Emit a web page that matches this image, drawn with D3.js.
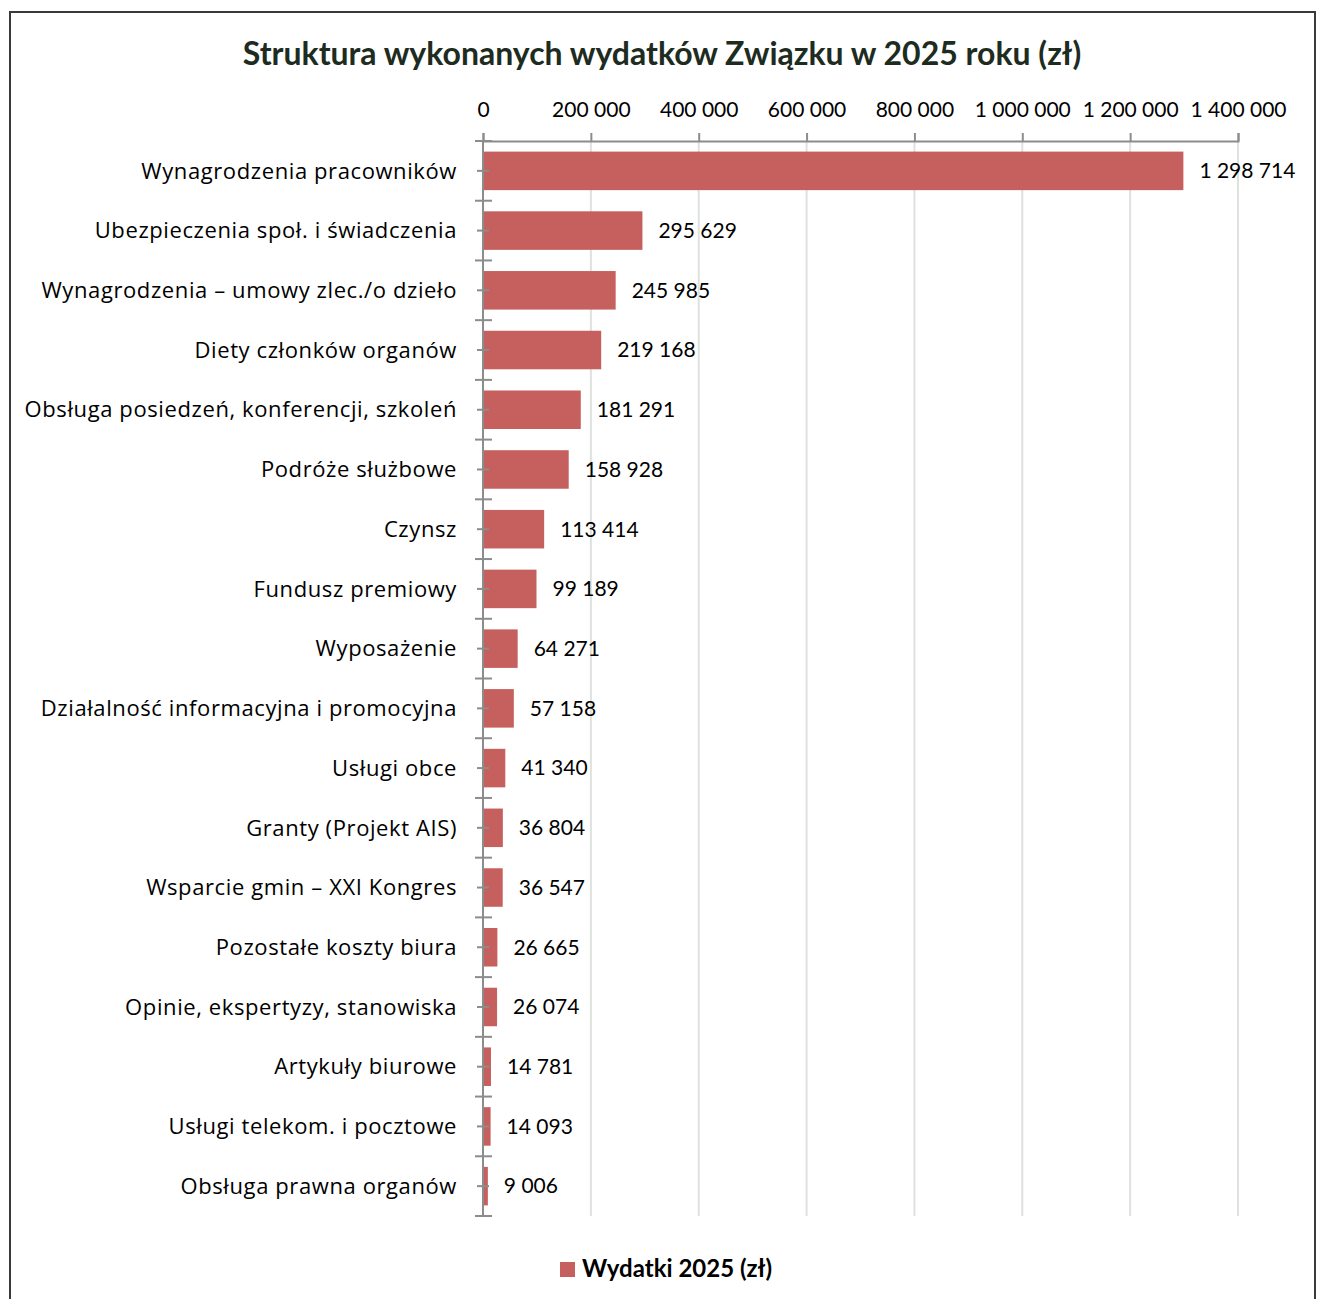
<!DOCTYPE html>
<html>
<head>
<meta charset="utf-8">
<script src="https://cdn.jsdelivr.net/npm/d3@7/dist/d3.min.js"></script>
<style>
  body { margin: 0; background: #fff; }
  text { font-family: Lato, "Noto Sans", sans-serif; }
</style>
</head>
<body>
<div id="graph"></div>
<script>
// dane
var categories = [
  "Wynagrodzenia pracowników",
  "Ubezpieczenia społ. i świadczenia",
  "Wynagrodzenia – umowy zlec./o dzieło",
  "Diety członków organów",
  "Obsługa posiedzeń, konferencji, szkoleń",
  "Podróże służbowe",
  "Czynsz",
  "Fundusz premiowy",
  "Wyposażenie",
  "Działalność informacyjna i promocyjna",
  "Usługi obce",
  "Granty (Projekt AIS)",
  "Wsparcie gmin – XXI Kongres",
  "Pozostałe koszty biura",
  "Opinie, ekspertyzy, stanowiska",
  "Artykuły biurowe",
  "Usługi telekom. i pocztowe",
  "Obsługa prawna organów"
];
var values = [1298714, 295629, 245985, 219168, 181291, 158928, 113414, 99189,
  64271, 57158, 41340, 36804, 36547, 26665, 26074, 14781, 14093, 9006];
var ticks = [0, 200000, 400000, 600000, 800000, 1000000, 1200000, 1400000];
var title = "Struktura wykonanych wydatków Związku w 2025 roku (zł)";
var seriesName = "Wydatki 2025 (zł)";

var width = 1319, height = 1299;
var plotL = 483, plotR = 1238, plotT = 141, plotB = 1216;
var barColor = "#c6605e";
var axisColor = "#8c8c8c";

// format 1 298 714
var fmt = function(v){ return d3.format(",")(v).replace(/,/g, " "); };

var svg = d3.select("#graph").append("svg")
  .attr("width", width).attr("height", height);

// ramka
svg.append("rect")
  .attr("x", 10).attr("y", 12)
  .attr("width", 1305).attr("height", 1300)
  .attr("fill", "none").attr("stroke", "#3a3a3a").attr("stroke-width", 2);

svg.append("text")
  .attr("x", 662).attr("y", 65)
  .attr("text-anchor", "middle")
  .attr("font-size", 32).attr("font-weight", "bold")
  .attr("fill", "#1e2b1f")
  .text(title);

var x = d3.scaleLinear().domain([0, 1400000]).range([plotL, plotR]);
var y = d3.scaleBand().domain(categories).range([plotT, plotB]).paddingInner(0.355).paddingOuter(0.1775);

// siatka
svg.append("g").selectAll("line").data(ticks.slice(1)).enter().append("line")
  .attr("x1", function(d){ return x(d); }).attr("x2", function(d){ return x(d); })
  .attr("y1", plotT).attr("y2", plotB)
  .attr("stroke", "#dde2dc").attr("stroke-width", 2);

// słupki
svg.append("g").selectAll("rect").data(values).enter().append("rect")
  .attr("x", x(0))
  .attr("y", function(d, i){ return y(categories[i]); })
  .attr("width", function(d){ return x(d) - x(0); })
  .attr("height", y.bandwidth())
  .attr("fill", barColor);

// oś X u góry
var xAxis = svg.append("g").attr("transform", "translate(0," + plotT + ")")
  .call(d3.axisTop(x).tickValues(ticks).tickSize(8).tickPadding(16).tickFormat(fmt));
xAxis.select(".domain").attr("stroke", axisColor).attr("stroke-width", 2);
xAxis.selectAll(".tick line").attr("stroke", axisColor).attr("stroke-width", 2);
xAxis.selectAll(".tick text").attr("font-size", 21).attr("fill", "#000")
  .style("font-family", "Lato, 'Noto Sans', sans-serif");

// oś Y
var step = y.step();
var bounds = d3.range(categories.length + 1).map(function(i){ return plotT + i * step; });
svg.append("line").attr("x1", plotL).attr("x2", plotL).attr("y1", plotT).attr("y2", plotB)
  .attr("stroke", axisColor).attr("stroke-width", 2);
svg.append("g").selectAll("line").data(bounds).enter().append("line")
  .attr("x1", plotL - 8).attr("x2", plotL + 9)
  .attr("y1", function(d){ return d; }).attr("y2", function(d){ return d; })
  .attr("stroke", axisColor).attr("stroke-width", 2);
svg.append("g").selectAll("line").data(categories).enter().append("line")
  .attr("x1", plotL - 6).attr("x2", plotL + 6)
  .attr("y1", function(d){ return y(d) + y.bandwidth() / 2; })
  .attr("y2", function(d){ return y(d) + y.bandwidth() / 2; })
  .attr("stroke", axisColor).attr("stroke-width", 2);

// etykiety kategorii
svg.append("g").selectAll("text").data(categories).enter().append("text")
  .attr("x", 457)
  .attr("y", function(d){ return y(d) + y.bandwidth() / 2; })
  .attr("dy", "0.35em")
  .attr("text-anchor", "end")
  .attr("font-size", 22).attr("letter-spacing", 0.6).attr("fill", "#000")
  .style("font-family", "'Open Sans', 'Noto Sans', sans-serif")
  .text(function(d){ return d; });

// etykiety wartości
svg.append("g").selectAll("text").data(values).enter().append("text")
  .attr("x", function(d){ return x(d) + 16; })
  .attr("y", function(d, i){ return y(categories[i]) + y.bandwidth() / 2; })
  .attr("dy", "0.35em")
  .attr("font-size", 21).attr("fill", "#000")
  .text(function(d){ return fmt(d); });

// legenda
svg.append("rect").attr("x", 560).attr("y", 1262).attr("width", 15).attr("height", 15)
  .attr("fill", barColor);
svg.append("text").attr("x", 582).attr("y", 1269).attr("dy", "0.35em")
  .attr("font-size", 24).attr("font-weight", "bold").attr("fill", "#000")
  .text(seriesName);
</script>
</body>
</html>
